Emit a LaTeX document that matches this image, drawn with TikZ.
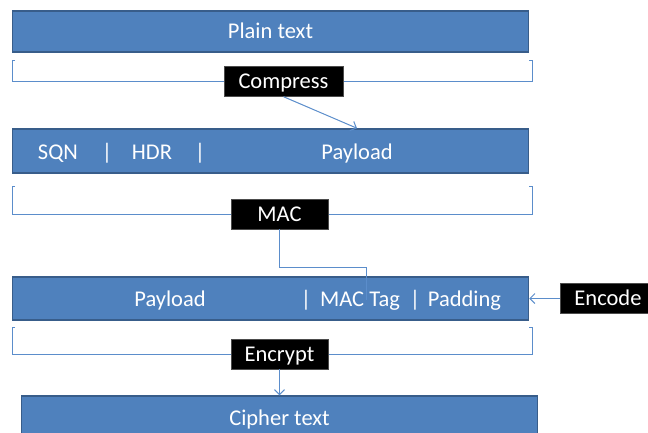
\documentclass[tikz,border=0pt]{standalone}
\usepackage{fontspec}
\setmainfont{Carlito}
\usetikzlibrary{arrows.meta}
\definecolor{boxblue}{HTML}{4F81BD}
\definecolor{boxedge}{HTML}{385D8A}
\definecolor{linkblue}{HTML}{5B8DCB}

\begin{document}
\begin{tikzpicture}[x=1pt,y=-1pt,>={Straight Barb[length=5pt,width=10pt]},
    field/.style={rectangle,fill=boxblue,draw=boxedge,line width=1.5pt,minimum width=516pt,inner sep=0pt,text=white,text height=14.5pt,text depth=0pt,font=\fontsize{22.5}{27}\selectfont},
    word/.style={inner sep=0pt,text=white,text height=14.5pt,text depth=0pt,font=\fontsize{22.5}{27}\selectfont},
    stage/.style={rectangle,fill=black,draw=black!70,inner sep=0pt,minimum height=30pt,text=white,text height=14.5pt,text depth=0pt,font=\fontsize{22.5}{27}\selectfont},
    flow/.style={draw=linkblue,line width=1pt},
    bracket/.style={draw=linkblue,line width=1pt}]
    \useasboundingbox (0,0) rectangle (648,432);
    \clip (0,0) rectangle (648,432);

    % records
    \node[field,minimum height=41pt] (plain) at (270.5,31.5) {Plain text};
    \node[field,minimum height=44pt] (frame) at (270.5,151) {};
    \node[field,minimum height=43pt] (tagged) at (270.5,298.5) {};
    \node[field,minimum height=44pt] (cipher) at (279.5,418) {Cipher text};

    \node[word] (sqn) at (58,152) {SQN};
    \node[word] (bar1) at (107,152) {|};
    \node[word] (hdr) at (152,152) {HDR};
    \node[word] (bar2) at (200,152) {|};
    \node[word] (payload) at (357,152) {Payload};

    \node[word] (body) at (170,299.5) {Payload};
    \node[word] (bar3) at (306,299.5) {|};
    \node[word] (mactag) at (360,299.5) {MAC Tag};
    \node[word] (bar4) at (415,299.5) {|};
    \node[word] (padding) at (464.5,299.5) {Padding};

    % brackets under each record
    \draw[bracket] (15,60) -- (12,60) -- (12,81) -- (532,81) -- (532,60) -- (529,60);
    \draw[bracket] (15,186) -- (12,186) -- (12,214) -- (532,214) -- (532,186) -- (529,186);
    \draw[bracket] (15,327) -- (12,327) -- (12,354) -- (532,354) -- (532,327) -- (529,327);

    % steps
    \node[stage,minimum width=119pt] (compress) at (283.5,81.5) {Compress};
    \node[stage,minimum width=97pt] (mac) at (279.5,214) {MAC};
    \node[stage,minimum width=97pt] (encrypt) at (279.5,354) {Encrypt};
    \node[stage,minimum width=96pt] (encode) at (608,298.5) {Encode};

    \coordinate (tagin) at (366,300);

    \draw[flow,->] (compress.south) -- (payload |- frame.north);
    \draw[flow] (mac.south) -- ++(0,38) -| (tagin);
    \draw[flow,->] (encode.west) -- (tagged.east);
    \draw[flow,->] (encrypt.south) -- (encrypt.south |- cipher.north);
\end{tikzpicture}
\end{document}
